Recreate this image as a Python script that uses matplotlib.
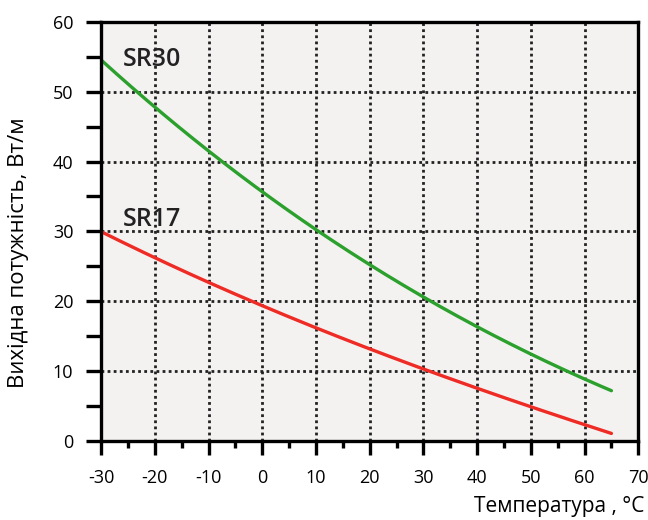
import numpy as np
import matplotlib.pyplot as plt
from matplotlib.ticker import MultipleLocator

plt.rcParams['font.family'] = ['Open Sans', 'DejaVu Sans']
plt.rcParams['axes.unicode_minus'] = False

temps = [-30, -20, -10, 0, 10, 20, 30, 40, 50, 60, 65]
sr30 = [54.7, 47.6, 41.4, 35.7, 30.3, 25.6, 20.5, 16.2, 12.3, 9.0, 7.2]
sr17 = [30.0, 26.2, 22.6, 19.5, 16.2, 13.2, 10.2, 7.6, 4.9, 2.3, 1.1]

fig = plt.figure(figsize=(6.48, 5.2), dpi=100)
ax = fig.add_axes([0.156, 0.152, 0.829, 0.806])
ax.set_facecolor('#f3f2f1')

# smooth the read points a little for drawing
t = np.linspace(-30, 65, 200)
c30 = np.polyfit(temps, sr30, 3)
c17 = np.polyfit(temps, sr17, 3)
ax.plot(t, np.polyval(c30, t), color='#2ca02c', lw=2.4, solid_capstyle='round')
ax.plot(t, np.polyval(c17, t), color='#ee2b24', lw=2.4, solid_capstyle='round')

ax.text(-26, 54.6, 'SR30', fontsize=18, fontweight='semibold', va='center', color='#222222')
ax.text(-26, 31.7, 'SR17', fontsize=18, fontweight='semibold', va='center', color='#222222')

ax.set_xlim(-30, 70)
ax.set_ylim(0, 60)
ax.xaxis.set_major_locator(MultipleLocator(10))
ax.xaxis.set_minor_locator(MultipleLocator(5))
ax.yaxis.set_major_locator(MultipleLocator(10))
ax.yaxis.set_minor_locator(MultipleLocator(5))

ax.grid(True, which='major', color='#222222', linestyle=(0, (1, 1.2)), linewidth=2.0)
for s in ax.spines.values():
    s.set_linewidth(2.4)
    s.set_color('black')

ax.tick_params(which='both', direction='out', width=2.4, color='black')
ax.tick_params(axis='y', which='both', length=11, pad=9, labelsize=13)
ax.tick_params(axis='x', which='major', length=10, pad=10, labelsize=13)
ax.tick_params(axis='x', which='minor', length=5)

ax.set_ylabel('Вихідна потужність, Вт/м', fontsize=16)
ax.yaxis.set_label_coords(-0.135, 0.45)
fig.text(0.995, 0.005, 'Температура , °C', fontsize=15, ha='right', va='bottom')

fig.savefig('out.png', dpi=100)
